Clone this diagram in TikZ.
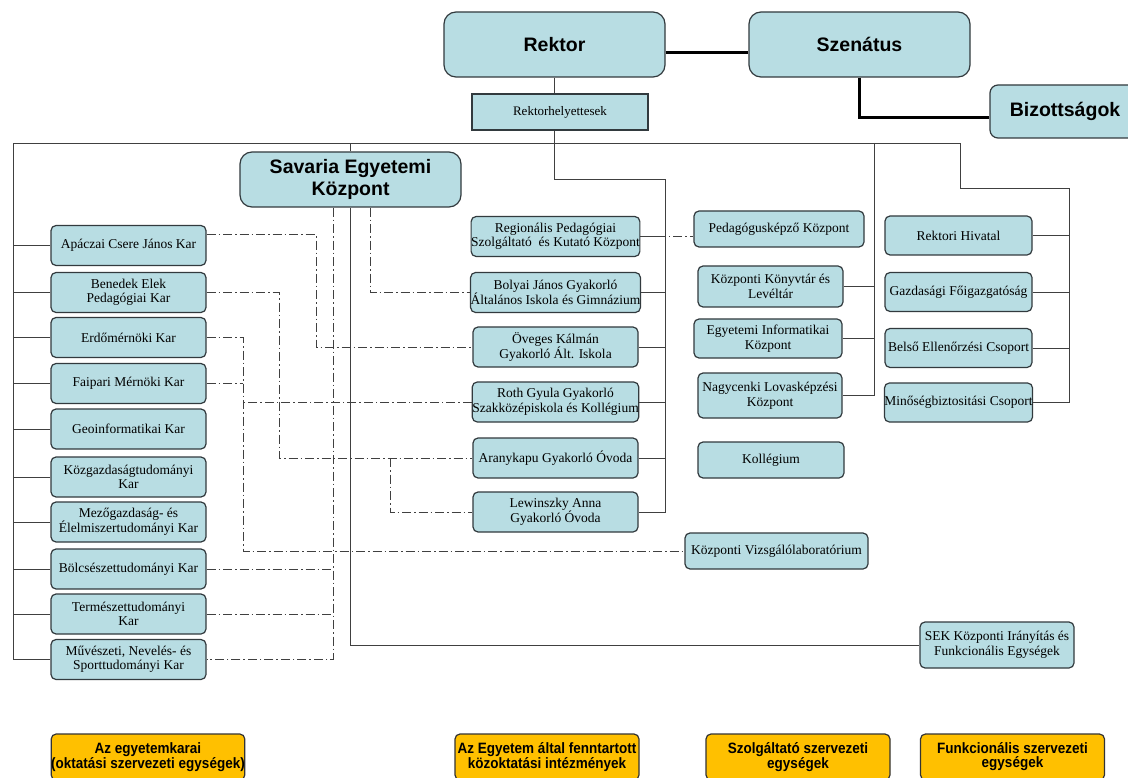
\documentclass[tikz,border=0pt]{standalone}
\usepackage{fontspec}
\setmainfont{Liberation Serif}
\newfontfamily\headfont{Liberation Sans}
\newfontfamily\legfont[FakeStretch=0.9]{Liberation Sans}
\definecolor{boxfill}{RGB}{184,221,227}
\definecolor{boxline}{RGB}{50,58,62}
\definecolor{legendfill}{RGB}{255,192,0}

\begin{document}
\begin{tikzpicture}[x=1pt,y=-1pt,
	unit/.style={draw=boxline, fill=boxfill, line width=1.2pt, rounded corners=5pt,
		align=center, inner sep=0pt, font=\fontsize{13.5}{14.5}\selectfont},
	head/.style={unit, rounded corners=12pt, font=\headfont\bfseries\fontsize{19.5}{22}\selectfont},
	kar/.style={unit, minimum width=155pt, minimum height=40pt},
	iskola/.style={unit, minimum width=165pt, minimum height=40pt},
	funkc/.style={unit, minimum width=147pt, minimum height=39pt},
	legend/.style={unit, fill=legendfill, draw=black!80, minimum width=184pt, minimum height=46pt,
		font=\legfont\bfseries\fontsize{15}{14}\selectfont},
	link/.style={draw=black!75, line width=0.9pt},
	dlink/.style={link, dash pattern=on 9pt off 3pt on 1.5pt off 3pt},
	heavy/.style={draw=black, line width=3pt}]
\fill[white] (0,0) rectangle (1128,778);
\useasboundingbox (0,0) rectangle (1128,778);

% vezetes
\node[head, minimum width=221pt, minimum height=65pt] (rektor) at (554.5,44.5) {Rektor};
\node[head, minimum width=221pt, minimum height=65pt] (szenatus) at (859.5,44.5) {Szenátus};
\node[head, rounded corners=8pt, minimum width=150pt, minimum height=53pt] (bizottsagok) at (1065,111.5) {Bizottságok};
\node[unit, rounded corners=0pt, minimum width=176pt, minimum height=36pt,
	font=\fontsize{13}{14}\selectfont] (helyettesek) at (560,112) {Rektorhelyettesek};
\node[head, minimum width=221pt, minimum height=55pt] (savaria) at (350.5,179.5) {Savaria Egyetemi\\Központ};

% karok
\node[kar] (apaczai) at (128.5,245.5) {Apáczai Csere János Kar};
\node[kar] (benedek) at (128.5,292.5) {Benedek Elek\\Pedagógiai Kar};
\node[kar] (erdo) at (128.5,337.5) {Erdőmérnöki Kar};
\node[kar] (faipari) at (128.5,383.5) {Faipari Mérnöki Kar};
\node[kar] (geoinf) at (128.5,429) {Geoinformatikai Kar};
\node[kar] (kozgazd) at (128.5,477) {Közgazdaságtudományi\\Kar};
\node[kar] (mezogazd) at (128.5,522) {Mezőgazdaság- és\\Élelmiszertudományi Kar};
\node[kar] (bolcsesz) at (128.5,569) {Bölcsészettudományi Kar};
\node[kar] (termesz) at (128.5,614) {Természettudományi\\Kar};
\node[kar] (muvesz) at (128.5,659.5) {Művészeti, Nevelés- és\\Sporttudományi Kar};

% kozoktatasi intezmenyek
\node[iskola] (regional) at (555.5,236.5) {Regionális Pedagógiai\\Szolgáltató \ és Kutató Központ};
\node[iskola] (bolyai) at (555.5,292.5) {Bolyai János Gyakorló\\Általános Iskola és Gimnázium};
\node[iskola] (oveges) at (555.5,347) {Öveges Kálmán\\Gyakorló Ált. Iskola};
\node[iskola] (roth) at (555.5,402) {Roth Gyula Gyakorló\\Szakközépiskola és Kollégium};
\node[iskola] (aranykapu) at (555.5,458) {Aranykapu Gyakorló Óvoda};
\node[iskola] (lewinszky) at (555.5,512) {Lewinszky Anna\\Gyakorló Óvoda};

% szolgaltato egysegek
\node[unit, minimum width=170pt, minimum height=36pt] (pedkepzo) at (779,229) {Pedagógusképző Központ};
\node[unit, minimum width=145pt, minimum height=41pt] (konyvtar) at (770.5,286.5) {Központi Könyvtár és\\Levéltár};
\node[unit, minimum width=148pt, minimum height=39pt] (informatika) at (768,338.5) {Egyetemi Informatikai\\Központ};
\node[unit, minimum width=144pt, minimum height=45pt] (nagycenk) at (770,395.5) {Nagycenki Lovasképzési\\Központ};
\node[unit, minimum width=146pt, minimum height=36pt] (kollegium) at (771,460) {Kollégium};
\node[unit, minimum width=183pt, minimum height=36pt] (vizsgalo) at (776.5,551) {Központi Vizsgálólaboratórium};

% funkcionalis egysegek
\node[funkc] (hivatal) at (958.5,235.5) {Rektori Hivatal};
\node[funkc] (gazdasagi) at (958.5,292) {Gazdasági Főigazgatóság};
\node[funkc] (belso) at (958.5,348) {Belső Ellenőrzési Csoport};
\node[funkc] (minoseg) at (958.5,402.5) {Minőségbiztositási Csoport};
\node[unit, minimum width=154pt, minimum height=46pt] (sek) at (997,645) {SEK Központi Irányítás és\\Funkcionális Egységek};

% jelmagyarazat
\node[legend] (jel1) at (148,757) {Az egyetemkarai\\(oktatási szervezeti egységek)};
\node[legend] (jel2) at (547,757) {Az Egyetem által fenntartott\\közoktatási intézmények};
\node[legend] (jel3) at (798,757) {Szolgáltató szervezeti\\egységek};
\node[legend] (jel4) at (1012.5,757) {Funkcionális szervezeti\\egységek};

\coordinate (bal) at (13,143);
\coordinate (jobb) at (960,143);
\coordinate (szolg) at (874,143);
\coordinate (funk) at (1069,188);
\coordinate (kozokt) at (665,179);
\coordinate (vonalA) at (243,551);
\coordinate (vonalB) at (279,458);
\coordinate (vonalC) at (316,347);
\coordinate (vonalD) at (333,659.5);
\coordinate (vonalF) at (390,458);

\draw[heavy] ([yshift=-8pt]rektor.east) -- ([yshift=-8pt]szenatus.west);
\draw[heavy] (szenatus.south) |- ([yshift=-6pt]bizottsagok.west);
\draw[link] (rektor.south) -- (rektor.south |- helyettesek.north);
\draw[link] (rektor.south |- helyettesek.south) |- (kozokt) |- (lewinszky.east);
\draw[link] (regional.east) -- (regional.east -| kozokt);
\draw[link] (bolyai.east) -- (bolyai.east -| kozokt);
\draw[link] (oveges.east) -- (oveges.east -| kozokt);
\draw[link] (roth.east) -- (roth.east -| kozokt);
\draw[link] (aranykapu.east) -- (aranykapu.east -| kozokt);

\draw[link] (muvesz.west) -| (bal) -- (jobb) |- (funk) |- (minoseg.east);
\draw[link] (savaria.north) -- (savaria.north |- bal);
\draw[link] (savaria.south) |- (sek.west);
\draw[link] (apaczai.west) -- (apaczai.west -| bal);
\draw[link] (benedek.west) -- (benedek.west -| bal);
\draw[link] (erdo.west) -- (erdo.west -| bal);
\draw[link] (faipari.west) -- (faipari.west -| bal);
\draw[link] (geoinf.west) -- (geoinf.west -| bal);
\draw[link] (kozgazd.west) -- (kozgazd.west -| bal);
\draw[link] (mezogazd.west) -- (mezogazd.west -| bal);
\draw[link] (bolcsesz.west) -- (bolcsesz.west -| bal);
\draw[link] (termesz.west) -- (termesz.west -| bal);
\draw[link] (szolg) |- (nagycenk.east);
\draw[link] (konyvtar.east) -- (konyvtar.east -| szolg);
\draw[link] (informatika.east) -- (informatika.east -| szolg);
\draw[link] (hivatal.east) -- (hivatal.east -| funk);
\draw[link] (gazdasagi.east) -- (gazdasagi.east -| funk);
\draw[link] (belso.east) -- (belso.east -| funk);

% gyakorlo kapcsolatok
\draw[dlink] ([yshift=11pt]apaczai.east) -| (vonalC) -- (oveges.west);
\draw[dlink] (benedek.east) -| (vonalB) -- (aranykapu.west);
\draw[dlink] (erdo.east) -| (vonalA) -- (vizsgalo.west);
\draw[dlink] (faipari.east) -- (faipari.east -| vonalA);
\draw[dlink] (roth.west) -- (roth.west -| vonalA);
\draw[dlink] ([xshift=-17.5pt]savaria.south) |- (muvesz.east);
\draw[dlink] (bolcsesz.east) -- (bolcsesz.east -| vonalD);
\draw[dlink] (termesz.east) -- (termesz.east -| vonalD);
\draw[dlink] ([xshift=19.5pt]savaria.south) |- (bolyai.west);
\draw[dlink] (vonalF) |- (lewinszky.west);
\draw[dlink] (regional.east) -- (regional.east -| pedkepzo.west);
\end{tikzpicture}
\end{document}
